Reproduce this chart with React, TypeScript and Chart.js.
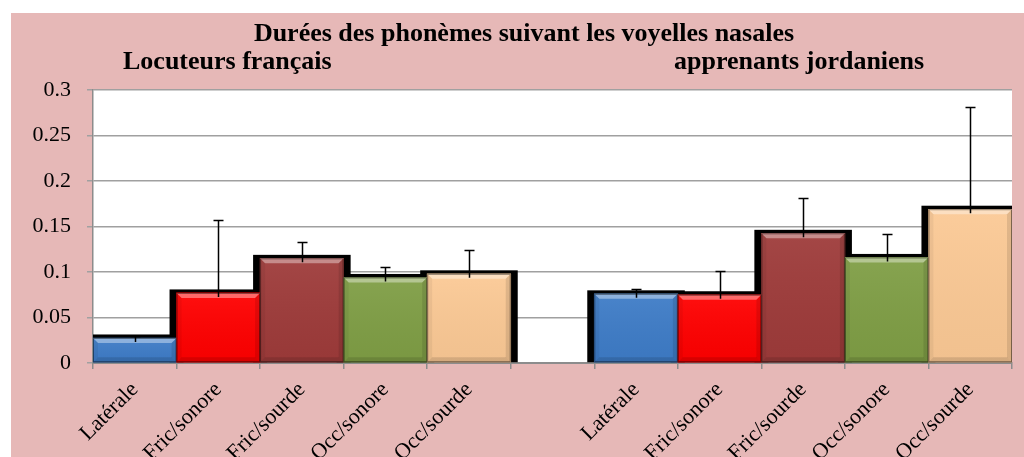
import React, { useEffect, useRef } from "react";
import { Chart, registerables } from "chart.js";

Chart.register(...registerables);

const titleLine = "Durées des phonèmes suivant les voyelles nasales";
const groupTitles = ["Locuteurs français", "apprenants jordaniens"];

const categories = [
  "Latérale", "Fric/sonore", "Fric/sourde", "Occ/sonore", "Occ/sourde",
  "",
  "Latérale", "Fric/sonore", "Fric/sourde", "Occ/sonore", "Occ/sourde",
];

const durations: (number | null)[] = [
  0.0275, 0.077, 0.115, 0.094, 0.098,
  null,
  0.076, 0.075, 0.1425, 0.116, 0.169,
];

const errors: (number | null)[] = [
  0.002, 0.080, 0.018, 0.0115, 0.0265,
  null,
  0.005, 0.026, 0.039, 0.026, 0.112,
];

const barColors = [
  "#3E7CC7", "#FF0000", "#9E3B3A", "#7F9E45", "#FBC995",
  "#000000",
  "#3E7CC7", "#FF0000", "#9E3B3A", "#7F9E45", "#FBC995",
];

const yTickValues = [0, 0.05, 0.1, 0.15, 0.2, 0.25, 0.3];
const yTickLabels = ["0", "0.05", "0.1", "0.15", "0.2", "0.25", "0.3"];

const PINK = "#E6B8B7";

const backgroundPlugin = {
  id: "bgTitle",
  beforeDraw(chart: any) {
    const { ctx, width, height, chartArea } = chart;
    ctx.save();
    ctx.fillStyle = PINK;
    ctx.fillRect(0, 0, width, height);
    ctx.fillStyle = "#FFFFFF";
    ctx.fillRect(chartArea.left, chartArea.top, chartArea.right - chartArea.left, chartArea.bottom - chartArea.top);
    ctx.fillStyle = "#000000";
    ctx.font = 'bold 26px "Liberation Serif"';
    ctx.textBaseline = "alphabetic";
    ctx.textAlign = "center";
    ctx.fillText(titleLine, 513, 28);
    ctx.textAlign = "left";
    ctx.fillText(groupTitles[0], 112, 56);
    ctx.fillText(groupTitles[1], 663, 56);
    ctx.restore();
  },
};

const shadowPlugin = {
  id: "barShadow",
  beforeDatasetsDraw(chart: any) {
    const { ctx, chartArea } = chart;
    const meta = chart.getDatasetMeta(0);
    ctx.save();
    ctx.beginPath();
    ctx.rect(chartArea.left, chartArea.top, chartArea.right - chartArea.left, chartArea.bottom - chartArea.top);
    ctx.clip();
    ctx.fillStyle = "#000000";
    meta.data.forEach((bar: any, i: number) => {
      if (durations[i] == null) return;
      const p = bar.getProps(["x", "y", "base", "width"], true);
      const left = p.x - p.width / 2 - 7;
      const top = p.y - 3.5;
      ctx.fillRect(left, top, p.width + 14, p.base - top);
    });
    ctx.restore();
  },
};

const bevelErrorPlugin = {
  id: "bevelError",
  afterDatasetsDraw(chart: any) {
    const { ctx } = chart;
    const yScale = chart.scales.y;
    const meta = chart.getDatasetMeta(0);
    ctx.save();
    meta.data.forEach((bar: any, i: number) => {
      const v = durations[i];
      if (v == null) return;
      const p = bar.getProps(["x", "y", "base", "width"], true);
      const l = p.x - p.width / 2;
      const r = p.x + p.width / 2;
      const t = p.y;
      const b = p.base;
      const s = 5;
      const poly = (pts: number[][], color: string) => {
        ctx.beginPath();
        ctx.moveTo(pts[0][0], pts[0][1]);
        for (let k = 1; k < pts.length; k++) ctx.lineTo(pts[k][0], pts[k][1]);
        ctx.closePath();
        ctx.fillStyle = color;
        ctx.fill();
      };
      const g = ctx.createLinearGradient(0, t, 0, b);
      g.addColorStop(0, "rgba(255,255,255,0.06)");
      g.addColorStop(1, "rgba(0,0,0,0.04)");
      ctx.fillStyle = g;
      ctx.fillRect(l, t, r - l, b - t);
      poly([[l, t], [r, t], [r - s, t + s], [l + s, t + s]], "rgba(255,255,255,0.38)");
      poly([[l, t], [l + s, t + s], [l + s, b - s], [l, b]], "rgba(0,0,0,0.05)");
      poly([[r, t], [r - s, t + s], [r - s, b - s], [r, b]], "rgba(0,0,0,0.10)");
      poly([[l, b], [l + s, b - s], [r - s, b - s], [r, b]], "rgba(0,0,0,0.12)");
      ctx.strokeStyle = "rgba(0,0,0,0.45)";
      ctx.lineWidth = 1;
      ctx.strokeRect(l + 0.5, t + 0.5, r - l - 1, b - t - 1);
    });
    ctx.strokeStyle = "#000000";
    ctx.lineWidth = 1.5;
    meta.data.forEach((bar: any, i: number) => {
      const v = durations[i];
      const e = errors[i];
      if (v == null || e == null) return;
      const x = Math.round(bar.x) + 0.5;
      const y0 = yScale.getPixelForValue(v) + 4;
      const y1 = Math.round(yScale.getPixelForValue(v + e)) + 0.5;
      ctx.beginPath();
      ctx.moveTo(x, y0);
      ctx.lineTo(x, y1);
      ctx.moveTo(x - 5, y1);
      ctx.lineTo(x + 5, y1);
      ctx.stroke();
    });
    ctx.restore();
  },
};

export default function App() {
  const canvasRef = useRef<HTMLCanvasElement | null>(null);

  useEffect(() => {
    const canvas = canvasRef.current;
    if (!canvas) return;
    const chart = new Chart(canvas, {
      type: "bar",
      data: {
        labels: categories,
        datasets: [
          {
            data: durations as any,
            backgroundColor: barColors,
            borderWidth: 0,
            barPercentage: 1,
            categoryPercentage: 1,
          },
        ],
      },
      options: {
        responsive: false,
        animation: false,
        devicePixelRatio: 1,
        layout: { padding: { top: 77, right: 12, left: 0, bottom: 0 } },
        plugins: {
          legend: { display: false },
          tooltip: { enabled: false },
          title: { display: false },
        },
        scales: {
          x: {
            grid: {
              offset: true,
              drawOnChartArea: false,
              drawTicks: true,
              tickLength: 6,
              color: "#8C8C8C",
              lineWidth: 1.5,
            },
            border: { color: "#8C8C8C", width: 2 },
            ticks: {
              autoSkip: false,
              minRotation: 45,
              maxRotation: 45,
              color: "#000000",
              padding: 8,
              font: { family: '"Liberation Serif"', size: 22 },
            },
            afterFit(scale: any) {
              scale.height = 94;
            },
          },
          y: {
            min: 0,
            max: 0.3,
            afterBuildTicks(scale: any) {
              scale.ticks = yTickValues.map((v) => ({ value: v }));
            },
            ticks: {
              color: "#000000",
              padding: 16,
              font: { family: '"Liberation Serif"', size: 22 },
              callback: (_v: any, idx: number) => yTickLabels[idx],
            },
            grid: { color: "#A0A0A0", lineWidth: 1.5, tickLength: 6 },
            border: { color: "#8C8C8C", width: 1.5 },
            afterFit(scale: any) {
              scale.width = 82;
            },
          },
        },
      },
      plugins: [backgroundPlugin, shadowPlugin, bevelErrorPlugin],
    });
    return () => chart.destroy();
  }, []);

  return (
    <div style={{ position: "absolute", left: 11, top: 13, width: 1013, height: 444 }}>
      <canvas ref={canvasRef} width={1013} height={444} style={{ display: "block" }} />
    </div>
  );
}
